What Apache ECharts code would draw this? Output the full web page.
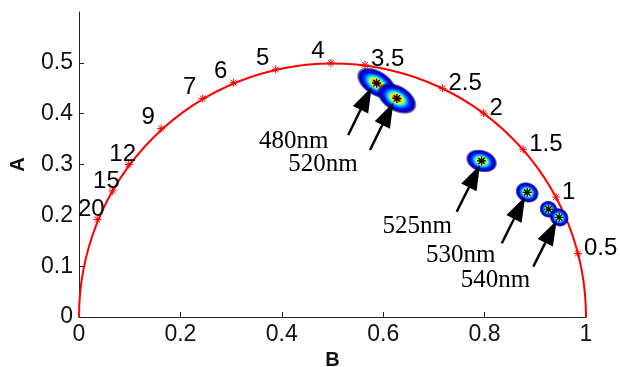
<!DOCTYPE html>
<html>
<head>
<meta charset="utf-8">
<script src="https://cdn.jsdelivr.net/npm/echarts@6/dist/echarts.min.js"></script>
<style>
html, body { margin: 0; padding: 0; background: #fff; }
#chart { width: 620px; height: 367px; }
</style>
</head>
<body>
<div id="chart"></div>
<script>
// lifetime marks (ns) on the universal semicircle
const lifetimes = ['0.5', '1', '1.5', '2', '2.5', '3.5', '4', '5', '6', '7', '9', '12', '15', '20']
const lifetimeB = [0.984, 0.941, 0.876, 0.798, 0.717, 0.564, 0.497, 0.388, 0.305, 0.244, 0.162, 0.098, 0.066, 0.036]
const lifetimeA = [0.125, 0.236, 0.330, 0.401, 0.450, 0.496, 0.500, 0.487, 0.461, 0.430, 0.371, 0.300, 0.248, 0.192]
// semicircle: centre B, centre A, radius
const semicircle = [0.5, 0, 0.5]
// measured clusters: centre, half spread along / across, tilt (deg)
const clusterB = [0.587, 0.627, 0.794, 0.884, 0.926, 0.947]
const clusterA = [0.460, 0.430, 0.307, 0.245, 0.212, 0.196]
const clusterMajor = [0.044, 0.043, 0.032, 0.024, 0.018, 0.020]
const clusterMinor = [0.025, 0.026, 0.022, 0.020, 0.017, 0.018]
const clusterTilt = [-32, -30, -18, -25, -20, -40]
// arrows and their captions
const captions = ['480nm', '520nm', '525nm', '530nm', '540nm']
const captionB = [0.4235, 0.481, 0.667, 0.753, 0.8215]
const captionA = [0.346, 0.300, 0.178, 0.122, 0.072]
const arrowFrom = [[0.531, 0.358], [0.574, 0.3285], [0.745, 0.207], [0.834, 0.145], [0.896, 0.099]]
const arrowTo = [[0.577, 0.452], [0.620, 0.422], [0.791, 0.299], [0.880, 0.237], [0.942, 0.190]]
// axis ticks
const xTicks = [0, 0.2, 0.4, 0.6, 0.8, 1]
const yTicks = [0, 0.1, 0.2, 0.3, 0.4, 0.5]

const star = 'path://M0,-5L0,5M-5,0L5,0M-3.6,-3.6L3.6,3.6M-3.6,3.6L3.6,-3.6'
const sans = 'Liberation Sans, Arial, sans-serif'
const serif = 'Liberation Serif, Times New Roman, serif'

const lifetimeLabel = t => {
  const v = parseFloat(t)
  if (v >= 12) return { offset: [-6, -10], align: 'center' }
  if (v >= 4) return { offset: [-13, -11], align: 'center' }
  return { offset: [6, -5], align: 'left' }
}

const jet = () => new echarts.graphic.RadialGradient(0.5, 0.5, 0.5, [
  { offset: 0, color: '#700000' },
  { offset: 0.1, color: '#d80000' },
  { offset: 0.2, color: '#ff8a00' },
  { offset: 0.29, color: '#f0ff10' },
  { offset: 0.4, color: '#30ffd0' },
  { offset: 0.52, color: '#0090ff' },
  { offset: 0.66, color: '#0010ff' },
  { offset: 0.84, color: '#0000a8' },
  { offset: 0.93, color: 'rgba(0,0,140,0.6)' },
  { offset: 1, color: 'rgba(0,0,140,0)' }
])

const axisCommon = {
  type: 'value',
  axisLine: { lineStyle: { color: '#222', width: 1 } },
  axisTick: { inside: true, length: 5, lineStyle: { color: '#222' } },
  splitLine: { show: false },
  axisLabel: { fontSize: 23, fontFamily: sans, color: '#111', margin: 6 },
  nameTextStyle: { fontSize: 20, fontWeight: 'bold', fontFamily: sans, color: '#111' }
}

const option = {
  animation: false,
  grid: { left: 79, right: 34, top: 12, bottom: 50, containLabel: false, outerBoundsMode: 'none' },
  xAxis: Object.assign({}, axisCommon, {
    min: 0, max: 1, interval: 0.2,
    name: 'B', nameLocation: 'middle', nameGap: 32,
    axisTick: Object.assign({}, axisCommon.axisTick, { customValues: xTicks }),
    axisLabel: Object.assign({}, axisCommon.axisLabel, { customValues: xTicks })
  }),
  yAxis: Object.assign({}, axisCommon, {
    min: 0, max: 0.6, interval: 0.1,
    name: 'A', nameLocation: 'middle', nameGap: 51, nameRotate: 90,
    axisTick: Object.assign({}, axisCommon.axisTick, { customValues: yTicks }),
    axisLabel: Object.assign({}, axisCommon.axisLabel, { customValues: yTicks })
  }),
  series: [
    {
      type: 'custom',
      data: [semicircle],
      z: 2,
      renderItem: (params, api) => {
        const c = api.coord([api.value(0), api.value(1)])
        const r = api.size([api.value(2), 0])[0]
        return {
          type: 'arc',
          shape: { cx: c[0], cy: c[1], r: r, startAngle: Math.PI, endAngle: Math.PI * 2, clockwise: true },
          style: { fill: 'none', stroke: '#ff0000', lineWidth: 2 }
        }
      }
    },
    {
      type: 'scatter',
      z: 3,
      symbol: star,
      symbolSize: 8,
      itemStyle: { color: 'transparent', borderColor: '#ff0000', borderWidth: 1, opacity: 1 },
      label: {
        show: true, position: 'inside', fontSize: 24, fontFamily: sans, color: '#000',
        textBorderWidth: 0, textShadowBlur: 0, formatter: p => p.name
      },
      data: lifetimes.map((t, i) => ({ name: t, value: [lifetimeB[i], lifetimeA[i]], label: lifetimeLabel(t) }))
    },
    {
      type: 'custom',
      z: 4,
      data: clusterB.map((b, i) => [b, clusterA[i], clusterMajor[i], clusterMinor[i], clusterTilt[i]]),
      renderItem: (params, api) => {
        const c = api.coord([api.value(0), api.value(1)])
        const rx = api.size([api.value(2), 0])[0]
        const ry = api.size([api.value(3), 0])[0]
        return {
          type: 'circle',
          x: c[0], y: c[1],
          rotation: api.value(4) * Math.PI / 180,
          scaleY: ry / rx,
          shape: { cx: 0, cy: 0, r: rx },
          style: { fill: jet() }
        }
      }
    },
    {
      type: 'scatter',
      z: 5,
      symbol: star,
      symbolSize: 9,
      itemStyle: { color: 'transparent', borderColor: '#000', borderWidth: 1.2, opacity: 1 },
      data: clusterB.map((b, i) => [b, clusterA[i]])
    },
    {
      type: 'custom',
      z: 6,
      data: arrowFrom.map((f, i) => [f[0], f[1], arrowTo[i][0], arrowTo[i][1]]),
      renderItem: (params, api) => {
        const p0 = api.coord([api.value(0), api.value(1)])
        const p1 = api.coord([api.value(2), api.value(3)])
        const dx = p1[0] - p0[0]
        const dy = p1[1] - p0[1]
        const len = Math.hypot(dx, dy)
        const ux = dx / len
        const uy = dy / len
        const hl = 25
        const hw = 8.5
        const bx = p1[0] - ux * hl
        const by = p1[1] - uy * hl
        return {
          type: 'group',
          children: [
            { type: 'line', shape: { x1: p0[0], y1: p0[1], x2: bx + ux * 3, y2: by + uy * 3 }, style: { stroke: '#000', lineWidth: 2.5 } },
            { type: 'polygon', shape: { points: [p1, [bx - uy * hw, by + ux * hw], [bx + uy * hw, by - ux * hw]] }, style: { fill: '#000' } }
          ]
        }
      }
    },
    {
      type: 'custom',
      z: 7,
      data: captions.map((c, i) => [captionB[i], captionA[i], c]),
      renderItem: (params, api) => {
        const c = api.coord([api.value(0), api.value(1)])
        return {
          type: 'text',
          x: c[0], y: c[1],
          style: { text: captions[params.dataIndex], fontSize: 25, fontFamily: serif, fill: '#000', align: 'center', verticalAlign: 'middle' }
        }
      }
    }
  ]
}

const chart = echarts.init(document.getElementById('chart'), null, { renderer: 'canvas' })
chart.setOption(option)
window.addEventListener('resize', () => chart.resize())
</script>
</body>
</html>
